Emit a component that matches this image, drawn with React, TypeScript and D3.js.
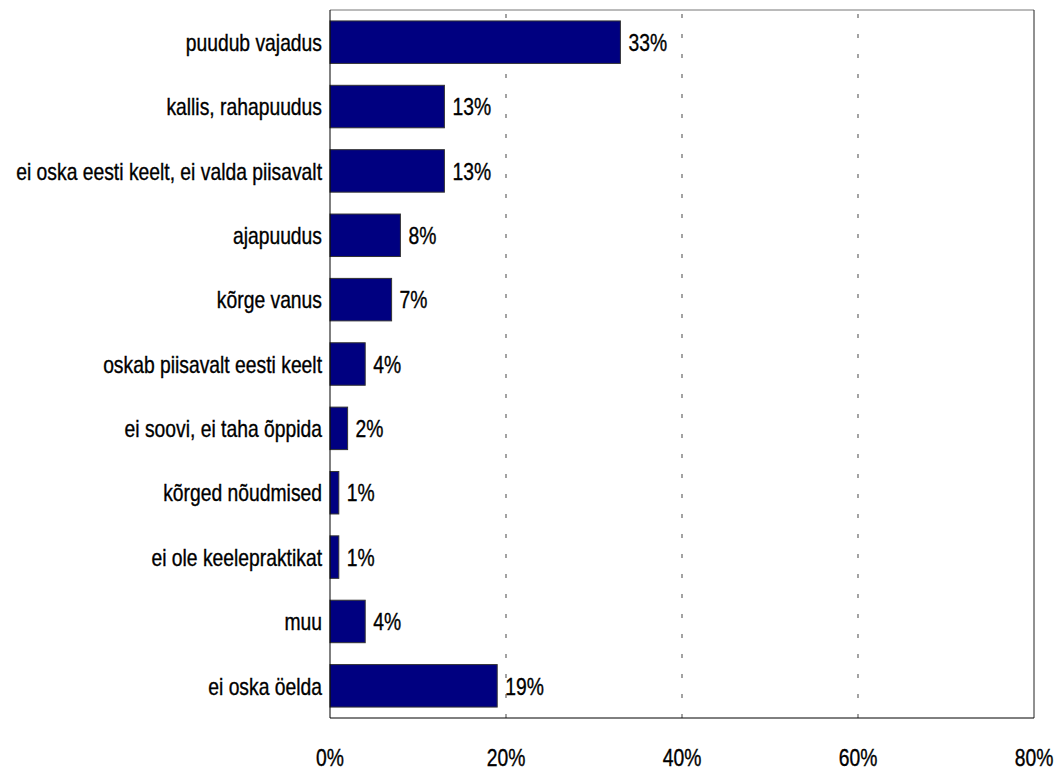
import React from 'react';
import * as d3 from 'd3';

const categories = [
  'puudub vajadus',
  'kallis, rahapuudus',
  'ei oska eesti keelt, ei valda piisavalt',
  'ajapuudus',
  'kõrge vanus',
  'oskab piisavalt eesti keelt',
  'ei soovi, ei taha õppida',
  'kõrged nõudmised',
  'ei ole keelepraktikat',
  'muu',
  'ei oska öelda',
];
const values = [33, 13, 13, 8, 7, 4, 2, 1, 1, 4, 19];
const xTicks = [0, 20, 40, 60, 80];

const W = 1057;
const H = 769;
const margin = { top: 10, right: 23, bottom: 51, left: 330 };
const FONT = '"Liberation Sans", Arial, sans-serif';
const FS = 23;
const NARROW = 0.84; // no condensed font installed, squeeze Liberation Sans

// condensed text helper
const Label = ({ x, y, anchor, children }: { x: number, y: number, anchor?: string, children: React.ReactNode }) => (
  <text transform={`translate(${x},${y}) scale(${NARROW},1)`} dy="0.38em"
    textAnchor={anchor || 'start'} fontSize={FS} fill="#000"
    stroke="#000" strokeWidth={0.35}>{children}</text>
);

export default function App() {
  const innerW = W - margin.left - margin.right;
  const innerH = H - margin.top - margin.bottom;

  const x = d3.scaleLinear().domain([0, 80]).range([0, innerW]);
  const y = d3.scaleBand().domain(categories).range([0, innerH]).paddingInner(0.34).paddingOuter(0.17);

  return (
    <svg width={W} height={H} style={{ position: 'absolute', left: 0, top: 0, fontFamily: FONT }}>
      <g transform={`translate(${margin.left},${margin.top})`}>
        {/* grid */}
        {xTicks.slice(1, -1).map(t => (
          <line key={t} x1={x(t)} x2={x(t)} y1={0} y2={innerH}
            stroke="#666" strokeWidth={1.2} strokeDasharray="4,16" strokeDashoffset={-4} />
        ))}
        {/* frame */}
        <line x1={0} x2={innerW} y1={0} y2={0} stroke="#777" />
        <line x1={innerW} x2={innerW} y1={0} y2={innerH} stroke="#222" />
        {categories.map((c, i) => (
          <g key={c}>
            <rect x={0} y={y(c)!} width={x(values[i])} height={y.bandwidth()}
              fill="#000080" stroke="#333" strokeWidth={1} />
            <Label x={x(values[i]) + 8} y={y(c)! + y.bandwidth() / 2}>{values[i]}%</Label>
            <Label x={-8} y={y(c)! + y.bandwidth() / 2} anchor="end">{c}</Label>
          </g>
        ))}
        <line x1={0} x2={0} y1={0} y2={innerH} stroke="#000" />
        <line x1={0} x2={innerW} y1={innerH} y2={innerH} stroke="#000" />
        {xTicks.map(t => (
          <Label key={t} x={x(t)} y={innerH + 39} anchor="middle">{t}%</Label>
        ))}
      </g>
    </svg>
  );
}
